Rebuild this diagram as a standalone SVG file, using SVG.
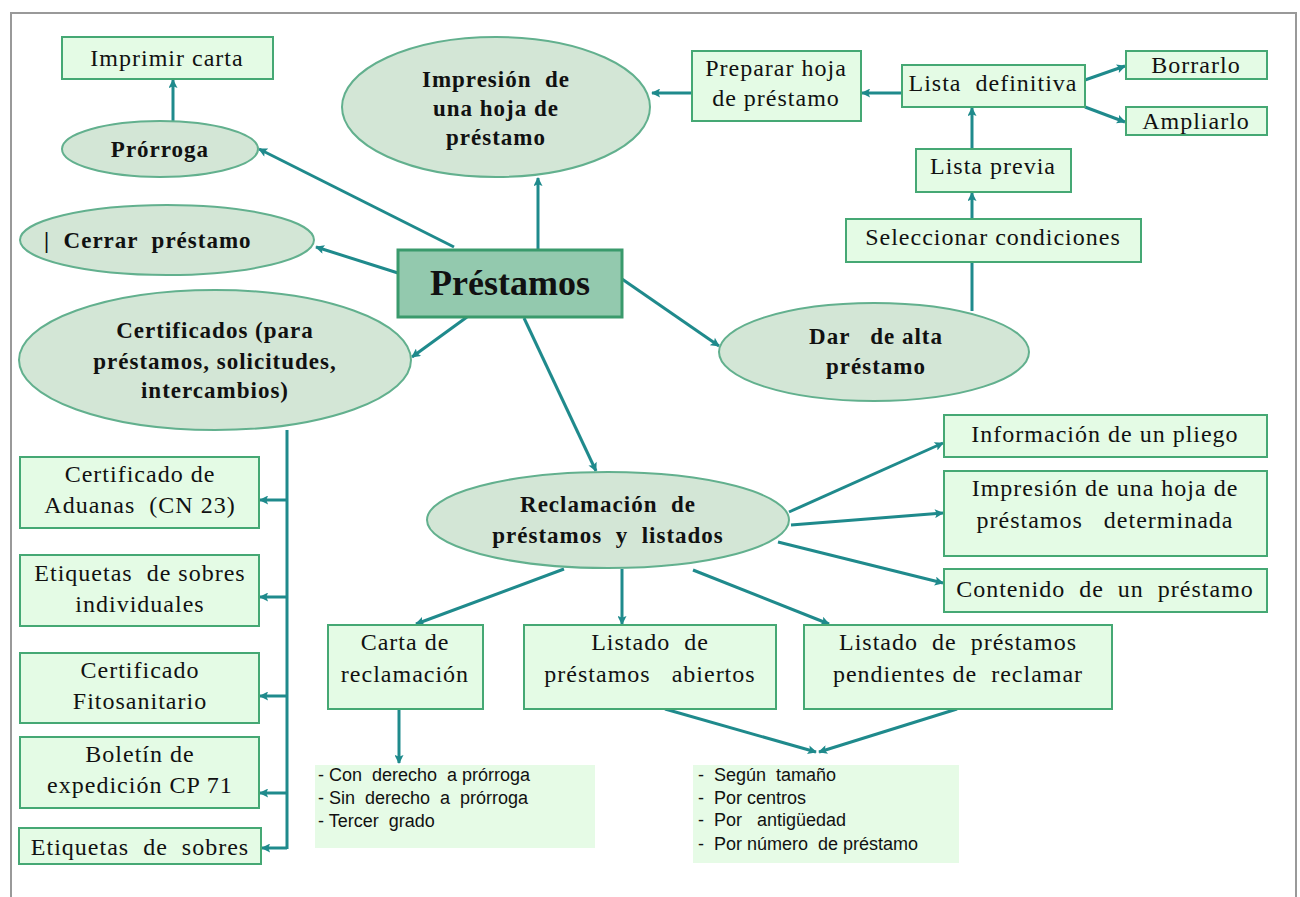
<svg xmlns="http://www.w3.org/2000/svg" width="1300" height="897" viewBox="0 0 1300 897">
<defs>
<marker id="ah" viewBox="0 0 10 10" refX="9" refY="5" markerWidth="10" markerHeight="9" markerUnits="userSpaceOnUse" orient="auto">
<path d="M0,0 L10,5 L0,10 L2,5 Z" fill="#1f8a8c"/>
</marker>
</defs>
<style>
.ell{fill:#d3e6d6;stroke:#62b08e;stroke-width:2}
.box{fill:#e4fbe5;stroke:#45a874;stroke-width:2}
.main{fill:#93c9ae;stroke:#3a9a6c;stroke-width:3}
.note{fill:#e6fbe6;stroke:none}
.c{fill:none;stroke:#1f8a8c;stroke-width:3}
.a{marker-end:url(#ah)}
text{font-family:"Liberation Serif","DejaVu Serif",serif;fill:#111;text-anchor:middle}
.b{font-weight:bold;font-size:23px;letter-spacing:1px}
.r{font-size:24px;letter-spacing:1px}
.s{font-family:"Liberation Sans",Arial,sans-serif;font-size:18px;text-anchor:start}
</style>
<rect x="11" y="13" width="1285" height="900" fill="#fff" stroke="#999" stroke-width="2"/>

<g id="connectors">
<line class="c a" x1="173" y1="121" x2="173" y2="80"/>
<line class="c a" x1="454" y1="247" x2="259" y2="149"/>
<line class="c a" x1="398" y1="273" x2="316" y2="247"/>
<line class="c a" x1="538" y1="249" x2="538" y2="178"/>
<line class="c a" x1="467" y1="317" x2="412" y2="357"/>
<line class="c a" x1="524" y1="318" x2="596" y2="471"/>
<line class="c a" x1="622" y1="279" x2="719" y2="346"/>
<line class="c" x1="972" y1="311" x2="972" y2="262"/>
<line class="c a" x1="972" y1="219" x2="972" y2="193"/>
<line class="c a" x1="972" y1="149" x2="972" y2="108"/>
<line class="c a" x1="902" y1="93" x2="862" y2="93"/>
<line class="c a" x1="692" y1="93" x2="652" y2="93"/>
<line class="c a" x1="1085" y1="80" x2="1125" y2="66"/>
<line class="c a" x1="1085" y1="107" x2="1125" y2="122"/>
<line class="c a" x1="789" y1="512" x2="943" y2="443"/>
<line class="c a" x1="791" y1="525" x2="943" y2="513"/>
<line class="c a" x1="778" y1="542" x2="943" y2="583"/>
<line class="c a" x1="564" y1="569" x2="416" y2="624"/>
<line class="c a" x1="622" y1="569" x2="622" y2="624"/>
<line class="c a" x1="693" y1="570" x2="829" y2="624"/>
<line class="c a" x1="399" y1="709" x2="399" y2="763"/>
<line class="c a" x1="665" y1="709" x2="816" y2="752"/>
<line class="c a" x1="957" y1="709" x2="819" y2="752"/>
<line class="c" x1="287" y1="430" x2="287" y2="849"/>
<line class="c a" x1="287" y1="500" x2="260" y2="500"/>
<line class="c a" x1="287" y1="597" x2="260" y2="597"/>
<line class="c a" x1="287" y1="696" x2="260" y2="696"/>
<line class="c a" x1="287" y1="793" x2="260" y2="793"/>
<line class="c a" x1="287" y1="848" x2="262" y2="848"/>
</g>

<g id="imprimir-carta"><rect class="box" x="62" y="37" width="211" height="42"/><text class="r" x="167" y="66">Imprimir carta</text></g>
<g id="prorroga"><ellipse class="ell" cx="160" cy="149" rx="98" ry="28"/><text class="b" x="160" y="157">Prórroga</text></g>
<g id="cerrar"><ellipse class="ell" cx="167" cy="240" rx="147" ry="35"/><text class="b" x="44" y="248" style="text-anchor:start" xml:space="preserve">|  Cerrar  préstamo</text></g>
<g id="impresion"><ellipse class="ell" cx="496" cy="107" rx="154" ry="70"/><text class="b" x="496" y="87" xml:space="preserve">Impresión  de</text><text class="b" x="496" y="116">una hoja de</text><text class="b" x="496" y="145">préstamo</text></g>
<g id="prestamos"><rect class="main" x="398" y="250" width="224" height="67"/><text x="510" y="295" style="font-weight:bold;font-size:36px">Préstamos</text></g>
<g id="certificados"><ellipse class="ell" cx="215" cy="360" rx="196" ry="70"/><text class="b" x="215" y="338">Certificados (para</text><text class="b" x="215" y="369">préstamos, solicitudes,</text><text class="b" x="215" y="398">intercambios)</text></g>
<g id="preparar"><rect class="box" x="692" y="51" width="169" height="70"/><text class="r" x="776" y="76">Preparar hoja</text><text class="r" x="776" y="106">de préstamo</text></g>
<g id="lista-definitiva"><rect class="box" x="902" y="65" width="183" height="42"/><text class="r" x="993" y="91" xml:space="preserve">Lista  definitiva</text></g>
<g id="borrarlo"><rect class="box" x="1126" y="51" width="141" height="28"/><text class="r" x="1196" y="73">Borrarlo</text></g>
<g id="ampliarlo"><rect class="box" x="1126" y="107" width="141" height="28"/><text class="r" x="1196" y="129">Ampliarlo</text></g>
<g id="lista-previa"><rect class="box" x="916" y="149" width="155" height="43"/><text class="r" x="993" y="174">Lista previa</text></g>
<g id="seleccionar"><rect class="box" x="846" y="219" width="295" height="43"/><text class="r" x="993" y="245">Seleccionar condiciones</text></g>
<g id="dar-alta"><ellipse class="ell" cx="874" cy="352" rx="155" ry="49"/><text class="b" x="876" y="344" xml:space="preserve">Dar   de alta</text><text class="b" x="876" y="374">préstamo</text></g>
<g id="informacion"><rect class="box" x="944" y="415" width="323" height="42"/><text class="r" x="1105" y="442">Información de un pliego</text></g>
<g id="impresion-det"><rect class="box" x="944" y="471" width="323" height="85"/><text class="r" x="1105" y="496">Impresión de una hoja de</text><text class="r" x="1105" y="528" xml:space="preserve">préstamos   determinada</text></g>
<g id="contenido"><rect class="box" x="944" y="569" width="323" height="43"/><text class="r" x="1105" y="597" xml:space="preserve">Contenido  de  un  préstamo</text></g>
<g id="reclamacion"><ellipse class="ell" cx="608" cy="520" rx="181" ry="48"/><text class="b" x="608" y="512" xml:space="preserve">Reclamación  de</text><text class="b" x="608" y="543" xml:space="preserve">préstamos  y  listados</text></g>
<g id="carta"><rect class="box" x="328" y="625" width="155" height="84"/><text class="r" x="405" y="650">Carta de</text><text class="r" x="405" y="682">reclamación</text></g>
<g id="listado-abiertos"><rect class="box" x="524" y="625" width="252" height="84"/><text class="r" x="650" y="650" xml:space="preserve">Listado  de</text><text class="r" x="650" y="682" xml:space="preserve">préstamos   abiertos</text></g>
<g id="listado-pendientes"><rect class="box" x="804" y="625" width="308" height="84"/><text class="r" x="958" y="650" xml:space="preserve">Listado  de  préstamos</text><text class="r" x="958" y="682" xml:space="preserve">pendientes de  reclamar</text></g>
<g id="nota-carta"><rect class="note" x="315" y="765" width="280" height="83"/>
<text class="s" x="318" y="781" xml:space="preserve">- Con  derecho  a prórroga</text>
<text class="s" x="318" y="804" xml:space="preserve">- Sin  derecho  a  prórroga</text>
<text class="s" x="318" y="827" xml:space="preserve">- Tercer  grado</text></g>
<g id="nota-listados"><rect class="note" x="693" y="765" width="266" height="98"/>
<text class="s" x="698" y="781" xml:space="preserve">-  Según  tamaño</text>
<text class="s" x="698" y="804" xml:space="preserve">-  Por centros</text>
<text class="s" x="698" y="826" xml:space="preserve">-  Por   antigüedad</text>
<text class="s" x="698" y="850" xml:space="preserve">-  Por número  de préstamo</text></g>
<g id="cert-aduanas"><rect class="box" x="20" y="457" width="239" height="71"/><text class="r" x="140" y="482">Certificado de</text><text class="r" x="140" y="513" xml:space="preserve">Aduanas  (CN 23)</text></g>
<g id="etiquetas-ind"><rect class="box" x="20" y="555" width="239" height="71"/><text class="r" x="140" y="581" xml:space="preserve">Etiquetas  de sobres</text><text class="r" x="140" y="612">individuales</text></g>
<g id="fitosanitario"><rect class="box" x="20" y="653" width="239" height="70"/><text class="r" x="140" y="678">Certificado</text><text class="r" x="140" y="709">Fitosanitario</text></g>
<g id="boletin"><rect class="box" x="20" y="737" width="239" height="71"/><text class="r" x="140" y="762">Boletín de</text><text class="r" x="140" y="793">expedición CP 71</text></g>
<g id="etiquetas"><rect class="box" x="19" y="828" width="242" height="36"/><text class="r" x="140" y="855" xml:space="preserve">Etiquetas  de  sobres</text></g>
</svg>
